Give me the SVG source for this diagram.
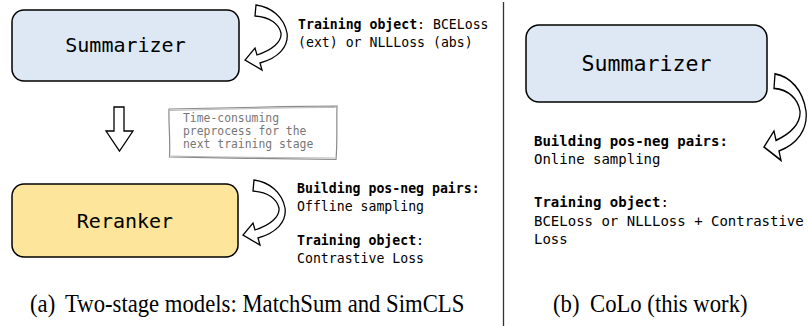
<svg xmlns="http://www.w3.org/2000/svg" xmlns:xlink="http://www.w3.org/1999/xlink" width="808" height="326" viewBox="0 0 808 326">
  <style>
    .box { stroke: #000; stroke-width: 1.5; }
    .blue { fill: #dde8f4; }
    .gold { fill: #fde69b; }
    .mono { font-family: "DejaVu Sans Mono", "Liberation Mono", monospace; fill: #000; }
    .title { font-size: 20px; text-anchor: middle; }
    .note { font-size: 13.2px; }
    .note-r { font-size: 14px; }
    .b { font-weight: bold; }
    .memo { font-family: "DejaVu Sans Mono", "Liberation Mono", monospace; font-size: 11.4px; fill: #777; }
    .cap { font-family: "Liberation Serif", "Times New Roman", serif; font-size: 22.7px; fill: #000; }
    .hollow { fill: #fff; stroke: #000; stroke-width: 1.3; stroke-linejoin: miter; }
    .sketch { fill: #fff; stroke: #8a8a8a; stroke-width: 1.2; }
  </style>
  <defs>
    <!-- curved feedback arrow, drawn beside the top summarizer -->
    <path id="loop" d="M256,5 C271,7 284,17 287,33 C289,47 278,58 260,63 L262,70 L245,60 L255,48 L257,55 C272,50 282,42 281,33 C279,24 270,17 255,16 Z"/>
  </defs>

  <rect width="808" height="326" fill="#fff"/>

  <!-- panel divider -->
  <line x1="503.5" y1="2" x2="503.5" y2="326" stroke="#333" stroke-width="1.3"/>

  <g id="connectors">
    <use xlink:href="#loop" class="hollow"/>
    <use xlink:href="#loop" class="hollow" transform="translate(-2,175)"/>
    <use xlink:href="#loop" class="hollow" transform="matrix(1 0 0 1.33 519 67.2)" style="vector-effect:non-scaling-stroke"/>
    <!-- stage transition arrow -->
    <polygon class="hollow" points="114,107 124,107 124,131 133,131 119.5,151 106,131 114,131"/>
  </g>

  <g id="summarizer-a">
    <rect class="box blue" x="12" y="10" width="227" height="71" rx="12"/>
    <text class="mono title" x="125.5" y="52">Summarizer</text>
  </g>

  <g id="summarizer-a-note">
    <text class="mono note" x="298" y="29"><tspan class="b">Training object</tspan>: BCELoss</text>
    <text class="mono note" x="298" y="47">(ext) or NLLLoss (abs)</text>
  </g>

  <g id="preprocess-memo">
    <path class="sketch" d="M169,109 C210,108 280,106.5 337,106 C336.5,125 337.5,142 336,159.5 C290,159 220,158 169.5,157 C170.5,140 168.5,126 169,109 Z"/>
    <path d="M170,110.5 C230,109 290,107.5 335.5,107.5 M335,158 C270,157.5 210,157 171,156" fill="none" stroke="#8a8a8a" stroke-width="0.6"/>
    <text class="memo" x="183" y="121.5">Time-consuming</text>
    <text class="memo" x="183" y="134.5">preprocess for the</text>
    <text class="memo" x="183" y="148">next training stage</text>
  </g>

  <g id="reranker">
    <rect class="box gold" x="12" y="184" width="226" height="73" rx="12"/>
    <text class="mono title" x="125" y="227.5">Reranker</text>
  </g>

  <g id="reranker-note">
    <text class="mono note b" x="297" y="193">Building pos-neg pairs:</text>
    <text class="mono note" x="297" y="211">Offline sampling</text>
    <text class="mono note" x="297" y="245"><tspan class="b">Training object</tspan>:</text>
    <text class="mono note" x="297" y="263">Contrastive Loss</text>
  </g>

  <g id="summarizer-b">
    <rect class="box blue" x="526" y="25" width="241" height="77" rx="13"/>
    <text class="mono" x="646.5" y="71" font-size="21.6" text-anchor="middle">Summarizer</text>
  </g>

  <g id="summarizer-b-note">
    <text class="mono note-r b" x="534" y="146">Building pos-neg pairs:</text>
    <text class="mono note-r" x="534" y="164">Online sampling</text>
    <text class="mono note-r" x="534" y="207"><tspan class="b">Training object</tspan>:</text>
    <text class="mono note-r" x="534" y="226">BCELoss or NLLLoss + Contrastive</text>
    <text class="mono note-r" x="534" y="244">Loss</text>
  </g>

  <!-- sub-figure captions, set slightly tall -->
  <g id="captions" transform="matrix(1 0 0 1.15 0 -46.8)">
    <text class="cap" x="30" y="312">(a)</text>
    <text class="cap" x="65" y="312">Two-stage models: MatchSum and SimCLS</text>
    <text class="cap" x="553" y="312">(b)</text>
    <text class="cap" x="590" y="312">CoLo (this work)</text>
  </g>
</svg>
